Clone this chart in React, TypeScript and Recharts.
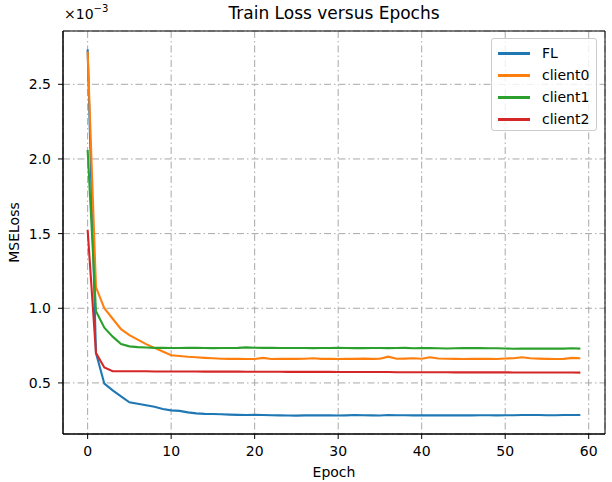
import React from 'react';
import { LineChart, Line, XAxis, YAxis, CartesianGrid, ReferenceArea } from 'recharts';

const epochs: number[] = Array.from({ length: 60 }, (_, i) => i);

// values in units of 1e-3
const flLoss = [2.734, 0.70, 0.495, 0.45, 0.41, 0.37, 0.36, 0.35, 0.34, 0.325, 0.316, 0.313, 0.303, 0.296, 0.293, 0.292, 0.29, 0.288, 0.286, 0.285, 0.286, 0.285, 0.284, 0.283, 0.282, 0.281, 0.283, 0.284, 0.283, 0.283, 0.282, 0.283, 0.285, 0.284, 0.283, 0.282, 0.285, 0.284, 0.284, 0.283, 0.283, 0.283, 0.284, 0.283, 0.284, 0.283, 0.283, 0.284, 0.284, 0.283, 0.284, 0.284, 0.285, 0.285, 0.285, 0.284, 0.284, 0.285, 0.285, 0.285];
const client0Loss = [2.72, 1.14, 1.0, 0.93, 0.86, 0.82, 0.79, 0.76, 0.735, 0.71, 0.685, 0.68, 0.675, 0.672, 0.668, 0.665, 0.662, 0.661, 0.661, 0.66, 0.66, 0.668, 0.66, 0.661, 0.662, 0.661, 0.662, 0.665, 0.661, 0.662, 0.66, 0.662, 0.661, 0.663, 0.661, 0.662, 0.676, 0.662, 0.663, 0.665, 0.662, 0.672, 0.664, 0.662, 0.661, 0.66, 0.661, 0.662, 0.661, 0.66, 0.664, 0.665, 0.672, 0.665, 0.663, 0.661, 0.66, 0.661, 0.668, 0.665];
const client1Loss = [2.06, 0.98, 0.87, 0.81, 0.76, 0.745, 0.74, 0.737, 0.735, 0.735, 0.734, 0.734, 0.735, 0.735, 0.734, 0.733, 0.734, 0.734, 0.735, 0.738, 0.736, 0.735, 0.735, 0.734, 0.734, 0.734, 0.734, 0.733, 0.734, 0.734, 0.735, 0.734, 0.733, 0.733, 0.734, 0.734, 0.733, 0.734, 0.735, 0.732, 0.734, 0.733, 0.732, 0.731, 0.732, 0.733, 0.733, 0.733, 0.732, 0.732, 0.731, 0.729, 0.73, 0.731, 0.73, 0.73, 0.73, 0.73, 0.732, 0.73];
const client2Loss = [1.525, 0.70, 0.603, 0.578, 0.578, 0.578, 0.578, 0.578, 0.577, 0.577, 0.577, 0.577, 0.577, 0.577, 0.576, 0.576, 0.576, 0.576, 0.576, 0.575, 0.575, 0.575, 0.575, 0.575, 0.574, 0.574, 0.574, 0.574, 0.574, 0.574, 0.573, 0.573, 0.573, 0.573, 0.573, 0.573, 0.573, 0.572, 0.572, 0.572, 0.572, 0.572, 0.572, 0.572, 0.571, 0.571, 0.571, 0.571, 0.571, 0.571, 0.571, 0.57, 0.57, 0.57, 0.57, 0.57, 0.57, 0.57, 0.57, 0.569];

const xTicks = [0, 10, 20, 30, 40, 50, 60];
const yTicks = [0.5, 1.0, 1.5, 2.0, 2.5];

const seriesNames = ['FL', 'client0', 'client1', 'client2'];
const seriesColors = ['#1f77b4', '#ff7f0e', '#2ca02c', '#d62728'];
const seriesValues = [flLoss, client0Loss, client1Loss, client2Loss];

const data = epochs.map((e, i) => {
  const row: Record<string, number> = { epoch: e };
  seriesNames.forEach((n, k) => {
    row[n] = seriesValues[k][i];
  });
  return row;
});

const FONT = '"DejaVu Sans", sans-serif';
const X_DOMAIN: [number, number] = [-2.95, 61.95];
const Y_DOMAIN: [number, number] = [0.158, 2.857];

const LegendBox = () => (
  <div
    style={{
      position: 'absolute',
      left: 491,
      top: 38,
      width: 106,
      height: 93,
      border: '1px solid #cccccc',
      borderRadius: 3,
      background: 'rgba(255,255,255,0.8)',
      boxSizing: 'border-box',
      fontFamily: FONT,
      fontSize: 14,
    }}
  >
    {seriesNames.map((n, k) => (
      <div key={n} style={{ position: 'absolute', left: 6, top: 4 + k * 22, height: 20, display: 'flex', alignItems: 'center' }}>
        <div style={{ width: 32, height: 3, background: seriesColors[k] }} />
        <span style={{ marginLeft: 12, color: '#000' }}>{n}</span>
      </div>
    ))}
  </div>
);

export default function App() {
  return (
    <div style={{ position: 'absolute', left: 0, top: 0, width: 612, height: 482, background: '#fff', fontFamily: FONT }}>
      <LineChart
        width={612}
        height={482}
        data={data}
        margin={{ top: 31, right: 7, bottom: 8, left: 0 }}
      >
        <CartesianGrid stroke="#a8a8a8" strokeDasharray="7 3 1.5 3" strokeWidth={1} />
        <XAxis
          dataKey="epoch"
          type="number"
          domain={X_DOMAIN}
          ticks={xTicks}
          allowDataOverflow
          height={40}
          tickSize={5}
          tickMargin={7}
          stroke="#000"
          tick={{ fill: '#000', fontSize: 14, fontFamily: FONT }}
          tickLine={{ stroke: '#000' }}
          axisLine={{ stroke: '#000', strokeWidth: 1 }}
          label={{ value: 'Epoch', position: 'insideBottom', offset: -3, fill: '#000', fontSize: 14, fontFamily: FONT }}
        />
        <YAxis
          type="number"
          domain={Y_DOMAIN}
          ticks={yTicks}
          allowDataOverflow
          width={63}
          tickSize={5}
          tickMargin={7}
          tickFormatter={(v: number) => v.toFixed(1)}
          tick={{ fill: '#000', fontSize: 14, fontFamily: FONT }}
          tickLine={{ stroke: '#000' }}
          axisLine={{ stroke: '#000', strokeWidth: 1 }}
          label={{ value: 'MSELoss', angle: -90, position: 'insideLeft', offset: 14, fill: '#000', fontSize: 14, fontFamily: FONT, style: { textAnchor: 'middle' } }}
        />
        {seriesNames.map((n, k) => (
          <Line
            key={n}
            type="linear"
            dataKey={n}
            stroke={seriesColors[k]}
            strokeWidth={2.1}
            dot={false}
            isAnimationActive={false}
          />
        ))}
        <ReferenceArea
          x1={X_DOMAIN[0]}
          x2={X_DOMAIN[1]}
          y1={Y_DOMAIN[0]}
          y2={Y_DOMAIN[1]}
          fill="none"
          fillOpacity={0}
          stroke="#000"
          strokeWidth={1}
          ifOverflow="visible"
        />
      </LineChart>
      <div style={{ position: 'absolute', left: 0, width: 668, top: 3, textAlign: 'center', fontSize: 17, color: '#000' }}>
        Train Loss versus Epochs
      </div>
      <div style={{ position: 'absolute', left: 64, top: 6, fontSize: 14, color: '#000' }}>
        ×10<sup style={{ fontSize: 10, verticalAlign: 'top', position: 'relative', top: -3 }}>−3</sup>
      </div>
      <LegendBox />
    </div>
  );
}
